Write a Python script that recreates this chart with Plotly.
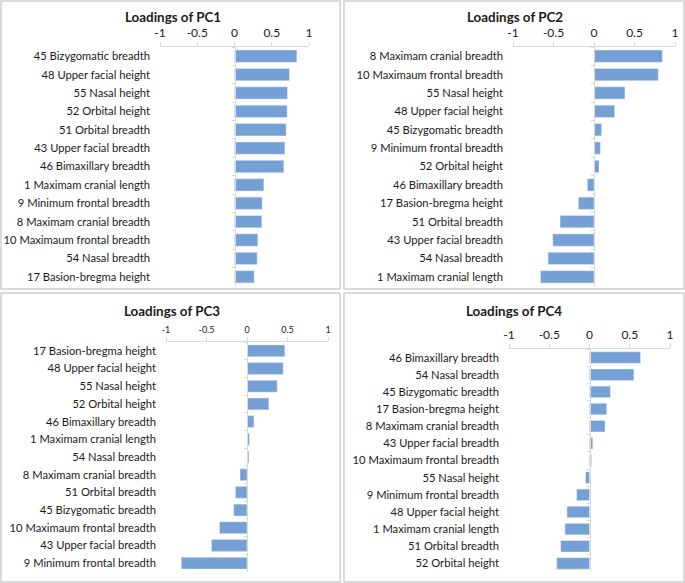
import plotly.graph_objects as go

# loadings, top row first
pc1_labels = ["45 Bizygomatic breadth", "48 Upper facial height", "55 Nasal height",
              "52 Orbital height", "51 Orbital breadth", "43 Upper facial breadth",
              "46 Bimaxillary breadth", "1 Maximam cranial length", "9 Minimum frontal breadth",
              "8 Maximam cranial breadth", "10 Maximaum frontal breadth", "54 Nasal breadth",
              "17 Basion-bregma height"]
pc1_values = [0.837, 0.738, 0.711, 0.707, 0.693, 0.676, 0.662, 0.394, 0.371, 0.367, 0.313, 0.304, 0.264]

pc2_labels = ["8 Maximam cranial breadth", "10 Maximaum frontal breadth", "55 Nasal height",
              "48 Upper facial height", "45 Bizygomatic breadth", "9 Minimum frontal breadth",
              "52 Orbital height", "46 Bimaxillary breadth", "17 Basion-bregma height",
              "51 Orbital breadth", "43 Upper facial breadth", "54 Nasal breadth",
              "1 Maximam cranial length"]
pc2_values = [0.843, 0.794, 0.382, 0.255, 0.094, 0.078, 0.062, -0.082, -0.193, -0.419, -0.509, -0.567, -0.661]

pc3_labels = ["17 Basion-bregma height", "48 Upper facial height", "55 Nasal height",
              "52 Orbital height", "46 Bimaxillary breadth", "1 Maximam cranial length",
              "54 Nasal breadth", "8 Maximam cranial breadth", "51 Orbital breadth",
              "45 Bizygomatic breadth", "10 Maximaum frontal breadth", "43 Upper facial breadth",
              "9 Minimum frontal breadth"]
pc3_values = [0.467, 0.447, 0.373, 0.270, 0.086, 0.029, 0.020, -0.086, -0.143, -0.164, -0.340, -0.439, -0.811]

pc4_labels = ["46 Bimaxillary breadth", "54 Nasal breadth", "45 Bizygomatic breadth",
              "17 Basion-bregma height", "8 Maximam cranial breadth", "43 Upper facial breadth",
              "10 Maximaum frontal breadth", "55 Nasal height", "9 Minimum frontal breadth",
              "48 Upper facial height", "1 Maximam cranial length", "51 Orbital breadth",
              "52 Orbital height"]
pc4_values = [0.634, 0.551, 0.259, 0.214, 0.193, 0.041, 0.025, -0.049, -0.160, -0.280, -0.305, -0.358, -0.407]

tick_vals = [-1, -0.5, 0, 0.5, 1]
tick_text = ["-1", "-0.5", "0", "0.5", "1"]

W, H = 685, 583
BAR = "#74a0d6"
LINE = "#d9d9d9"
FONT = "Lato"

# panel geometry in pixels: plot x0, x1, y0 (top), y1 (bottom), title centre, border box, tick font size
panels = [
    dict(title="Loadings of PC1", labels=pc1_labels, values=pc1_values,
         px=(160, 309), py=(47, 286), tpos=(173, 17), box=(1, 1, 340, 289), tfs=12),
    dict(title="Loadings of PC2", labels=pc2_labels, values=pc2_values,
         px=(513, 675), py=(47, 286), tpos=(515, 17), box=(344, 1, 684, 289), tfs=12),
    dict(title="Loadings of PC3", labels=pc3_labels, values=pc3_values,
         px=(166, 328), py=(342, 572), tpos=(172, 311), box=(1, 293, 340, 582), tfs=9),
    dict(title="Loadings of PC4", labels=pc4_labels, values=pc4_values,
         px=(509, 670), py=(349, 572), tpos=(514, 311), box=(344, 293, 684, 582), tfs=12),
]

fig = go.Figure()
layout = {}
shapes = []
annotations = []

for i, p in enumerate(panels):
    n = i + 1
    xa = "x" if n == 1 else f"x{n}"
    ya = "y" if n == 1 else f"y{n}"
    ya_zero = f"y{n + 4}"
    dx = [p["px"][0] / W, p["px"][1] / W]
    dy = [1 - p["py"][1] / H, 1 - p["py"][0] / H]

    fig.add_trace(go.Bar(x=p["values"], y=p["labels"], orientation="h",
                         marker=dict(color=BAR, line=dict(width=0)),
                         xaxis=xa, yaxis=ya, showlegend=False))
    # invisible copy so the zero axis (line + boundary ticks) is drawn
    fig.add_trace(go.Bar(x=p["values"], y=p["labels"], orientation="h",
                         marker=dict(color="rgba(0,0,0,0)"), hoverinfo="skip",
                         xaxis=xa, yaxis=ya_zero, showlegend=False))

    rng = [len(p["labels"]) - 0.5, -0.5]
    layout["xaxis" if n == 1 else f"xaxis{n}"] = dict(
        domain=dx, anchor=ya, side="top", range=[-1, 1], automargin=False,
        tickvals=tick_vals, ticktext=tick_text, showgrid=False, zeroline=False,
        showline=True, linecolor=LINE, linewidth=1, ticks="outside", ticklen=4,
        tickcolor=LINE, tickfont=dict(family=FONT, size=p["tfs"], color="#1a1a1a"))
    layout["yaxis" if n == 1 else f"yaxis{n}"] = dict(
        domain=dy, anchor=xa, type="category", categoryarray=p["labels"], range=rng,
        automargin=False, showgrid=False, showline=False, ticks="", ticklabelstandoff=9,
        tickfont=dict(family=FONT, size=11.2, color="#1a1a1a"))
    layout[f"yaxis{n + 4}"] = dict(
        overlaying=ya, anchor="free", position=(dx[0] + dx[1]) / 2, automargin=False,
        type="category", categoryarray=p["labels"], range=rng,
        showgrid=False, showticklabels=False, showline=True, linecolor=LINE,
        linewidth=1, ticks="outside", tickson="boundaries", ticklen=3, tickcolor=LINE)

    annotations.append(dict(text=f"<b>{p['title']}</b>", x=p["tpos"][0] / W, y=1 - p["tpos"][1] / H,
                            xref="paper", yref="paper", xanchor="center", yanchor="middle",
                            showarrow=False, font=dict(family=FONT, size=13.4, color="#1a1a1a")))
    bx0, by0, bx1, by1 = p["box"]
    shapes.append(dict(type="rect", xref="paper", yref="paper",
                       x0=bx0 / W, x1=bx1 / W, y0=1 - by1 / H, y1=1 - by0 / H,
                       line=dict(color="#d0d0d0", width=1.5)))

fig.update_layout(**layout)
fig.update_layout(width=W, height=H, margin=dict(l=0, r=0, t=0, b=0),
                  paper_bgcolor="white", plot_bgcolor="white", bargap=0.33,
                  barmode="overlay", shapes=shapes, annotations=annotations,
                  font=dict(family=FONT))

# the page body has a default 8px margin; drop it so the figure fills the window
fig.write_html("out.html", config={"displayModeBar": False},
               post_script="document.body.style.margin = '0';")
